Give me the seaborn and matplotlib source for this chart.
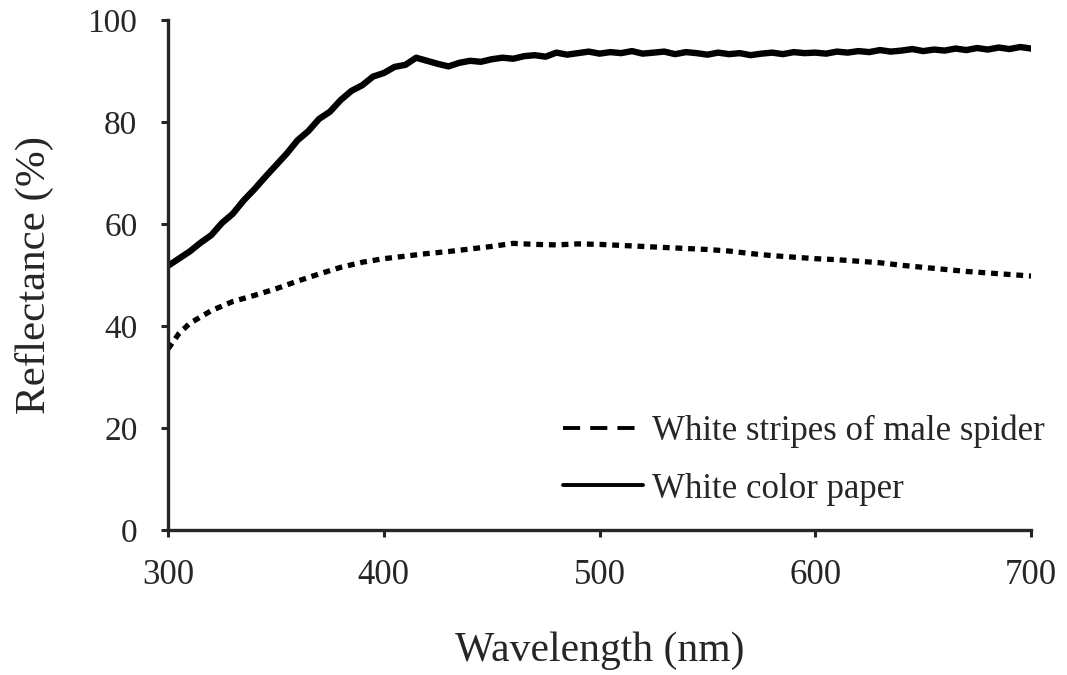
import numpy as np
import pandas as pd
import matplotlib
matplotlib.use("Agg")
import matplotlib.pyplot as plt
import seaborn as sns
from matplotlib.lines import Line2D

# Wavelength grid (nm) and reflectance (%)
paper_wl = list(range(300, 705, 5))
paper_refl = [
    51.8, 53.2, 54.6, 56.3, 57.8, 60.2, 62.0, 64.6, 66.8, 69.2,
    71.5, 73.8, 76.4, 78.2, 80.6, 82.0, 84.3, 86.1, 87.2, 88.9,
    89.6, 90.8, 91.2, 92.6, 92.0, 91.4, 90.9, 91.6, 92.0, 91.8,
    92.3, 92.6, 92.4, 92.9, 93.1, 92.8, 93.6, 93.2, 93.5, 93.8,
    93.4, 93.7, 93.5, 93.9, 93.4, 93.6, 93.8, 93.3, 93.7, 93.5,
    93.2, 93.6, 93.3, 93.5, 93.1, 93.4, 93.6, 93.3, 93.7, 93.5,
    93.6, 93.4, 93.8, 93.6, 93.9, 93.7, 94.1, 93.8, 94.0, 94.3,
    93.9, 94.2, 94.0, 94.4, 94.1, 94.5, 94.2, 94.6, 94.3, 94.7,
    94.4,
]

spider_wl = [300, 305, 310] + list(range(320, 710, 10))
spider_refl = [
    35.5, 38.5, 40.5, 43.0, 44.8, 46.0, 47.3, 48.8, 50.2, 51.5,
    52.5, 53.2, 53.7, 54.2, 54.6, 55.1, 55.6, 56.2, 56.0, 55.9,
    56.1, 56.0, 55.8, 55.6, 55.4, 55.2, 55.0, 54.7, 54.2, 53.8,
    53.5, 53.2, 53.0, 52.7, 52.4, 51.9, 51.5, 51.1, 50.7, 50.4,
    50.1, 49.8,
]

labels = ["White stripes of male spider", "White color paper"]
x_ticks = [300, 400, 500, 600, 700]
y_ticks = [0, 20, 40, 60, 80, 100]

sns.set_style("ticks")
plt.rcParams["font.family"] = ["Liberation Serif", "DejaVu Serif"]

fig = plt.figure(figsize=(10.67, 6.75), dpi=100)
ax = fig.add_axes([0.1575, 0.2148, 0.8088, 0.7556])

sns.lineplot(x=spider_wl, y=spider_refl, ax=ax, color="black", linewidth=3.8,
             dashes=False, errorbar=None)
ax.lines[-1].set_dashes((1.3, 1.1))
sns.lineplot(x=paper_wl, y=paper_refl, ax=ax, color="black", linewidth=4.6,
             errorbar=None)

ax.set_xlim(300, 700)
ax.set_ylim(0, 100)
ax.set_xticks(x_ticks)
ax.set_yticks(y_ticks)
ax.tick_params(axis="x", labelsize=25, direction="out", length=5, width=2.2, pad=16)
ax.tick_params(axis="y", labelsize=24, direction="out", length=5, width=2.2, pad=17)
for s in ["left", "bottom"]:
    ax.spines[s].set_linewidth(2.4)
sns.despine(ax=ax)

ax.set_xlabel("Wavelength (nm)", fontsize=30, labelpad=28)
ax.set_ylabel("Reflectance (%)", fontsize=31, labelpad=24)

# legend with its own line styles
handles = [
    Line2D([], [], color="black", linewidth=2.8, dashes=(4.4, 2.6)),
    Line2D([], [], color="black", linewidth=2.8),
]
ax.legend(handles, labels, loc="upper left", bbox_to_anchor=(0.458, 0.226),
          frameon=False, fontsize=25, handlelength=2.3, handletextpad=0.25,
          labelspacing=0.7, borderpad=0, borderaxespad=0)

fig.savefig("out.png", dpi=100)
